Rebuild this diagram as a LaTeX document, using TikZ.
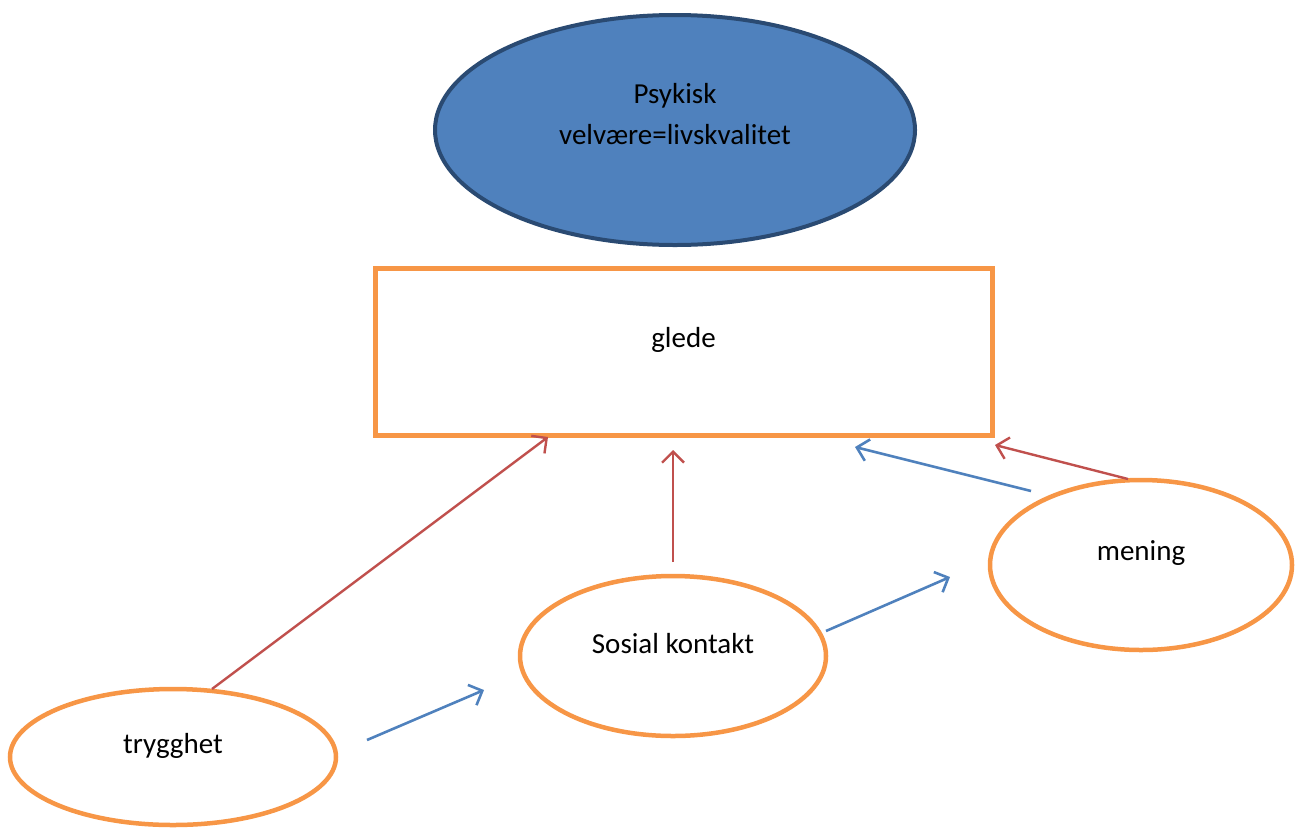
\documentclass[tikz,border=0pt]{standalone}
\usepackage{fontspec}
\setmainfont{Carlito}
\usetikzlibrary{shapes.geometric,arrows.meta}
\definecolor{accblue}{HTML}{4F81BD}
\definecolor{darkblue}{HTML}{2A4A72}
\definecolor{accorange}{HTML}{F79646}
\definecolor{accred}{HTML}{C0504D}
\tikzset{
  txt/.style={font=\fontsize{29}{41}\selectfont},
  oval/.style={ellipse, draw=accorange, line width=4.5pt, fill=white, inner sep=0pt},
  redarrow/.style={draw=accred, line width=2.4pt, -{Straight Barb[length=11pt,width=22pt,line width=2.4pt]}},
  bluearrow/.style={draw=accblue, line width=2.6pt, -{Straight Barb[length=11pt,width=22pt,line width=2.6pt]}},
}
\begin{document}
\begin{tikzpicture}[x=1pt,y=-1pt]
\useasboundingbox (0,0) rectangle (1297,828);
\node[ellipse, draw=darkblue, fill=accblue, line width=4pt, minimum width=480pt, minimum height=230pt, inner sep=0pt,
  label={[txt, align=center, yshift=16pt]center:Psykisk\\velvære=livskvalitet}] (top) at (675,130) {};
\node[draw=accorange, line width=5pt, minimum width=617pt, minimum height=167pt, inner sep=0pt,
  label={[txt, yshift=12pt]center:glede}] (glede) at (683.5,351.5) {};
\node[oval, minimum width=326pt, minimum height=136pt, label={[txt, yshift=11pt]center:trygghet}] (tryg) at (173,757) {};
\node[oval, minimum width=306pt, minimum height=160pt, label={[txt, yshift=12pt]center:Sosial kontakt}] (sosial) at (673,656) {};
\node[oval, minimum width=302pt, minimum height=170pt, label={[txt, yshift=12pt]center:mening}] (mening) at (1141,565) {};
\coordinate (a1s) at (212,689); \coordinate (a1e) at (548,437);
\coordinate (a2s) at (673,562); \coordinate (a2e) at (673,450);
\coordinate (a3s) at (1128,479); \coordinate (a3e) at (995,445);
\coordinate (b1s) at (367,740); \coordinate (b1e) at (484,690);
\coordinate (b2s) at (826,631); \coordinate (b2e) at (950,577);
\coordinate (b3s) at (1031,491); \coordinate (b3e) at (855,447);
\draw[redarrow] (a1s) -- (a1e);
\draw[redarrow] (a2s) -- (a2e);
\draw[redarrow] (a3s) -- (a3e);
\draw[bluearrow] (b1s) -- (b1e);
\draw[bluearrow] (b2s) -- (b2e);
\draw[bluearrow] (b3s) -- (b3e);
\end{tikzpicture}
\end{document}
